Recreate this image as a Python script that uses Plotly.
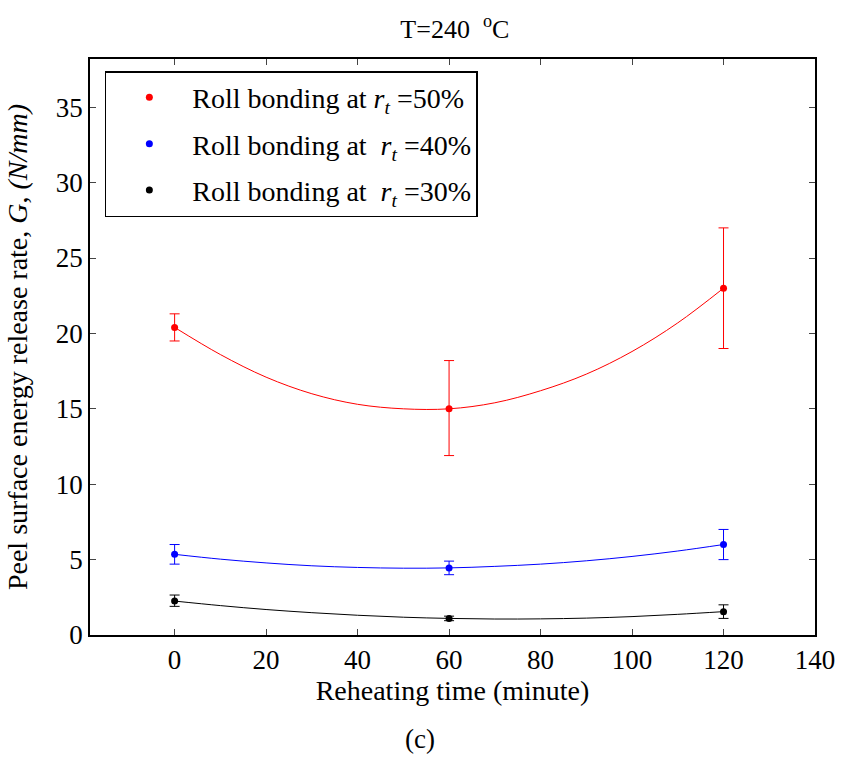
import plotly.graph_objects as go

# measured points
x_pts = [0, 60, 120]
r50 = [20.4, 15.0, 23.0]
r50_hi = [0.9, 3.2, 4.0]
r50_lo = [0.9, 3.1, 4.0]
r40 = [5.35, 4.45, 6.0]
r40_hi = [0.65, 0.45, 1.0]
r40_lo = [0.65, 0.45, 1.0]
r30 = [2.25, 1.1, 1.55]
r30_hi = [0.4, 0.15, 0.45]
r30_lo = [0.35, 0.15, 0.45]

# fitted curves
x_fit = [0, 10, 20, 30, 40, 50, 60, 70, 80, 90, 100, 110, 120]
fit50 = [20.4, 18.6, 17.1, 16.0, 15.3, 15.0, 15.0, 15.4, 16.2, 17.3, 18.8, 20.7, 23.0]
fit40 = [5.35, 5.03, 4.78, 4.59, 4.48, 4.43, 4.45, 4.55, 4.70, 4.92, 5.21, 5.57, 6.0]
fit30 = [2.25, 1.95, 1.69, 1.48, 1.31, 1.18, 1.10, 1.06, 1.07, 1.12, 1.22, 1.37, 1.55]

x_ticks = [0, 20, 40, 60, 80, 100, 120, 140]
y_ticks = [0, 5, 10, 15, 20, 25, 30, 35]

names = ["Roll bonding at <i>r</i><sub><i>t</i></sub> =50%",
         "Roll bonding at  <i>r</i><sub><i>t</i></sub> =40%",
         "Roll bonding at  <i>r</i><sub><i>t</i></sub> =30%"]
colors = ["#ff0000", "#0000ff", "#000000"]

FONT = "Liberation Serif"

fig = go.Figure()
for fit, c in zip([fit50, fit40, fit30], colors):
    fig.add_trace(go.Scatter(x=x_fit, y=fit, mode="lines", line=dict(color=c, width=1, shape="spline"),
                             showlegend=False, hoverinfo="skip"))
for i, (y, hi, lo, c, n) in enumerate(zip([r50, r40, r30], [r50_hi, r40_hi, r30_hi], [r50_lo, r40_lo, r30_lo], colors, names)):
    fig.add_trace(go.Scatter(x=x_pts, y=y, mode="markers", name=n, legendgroup=f"g{i}",
                             marker=dict(color=c, size=7),
                             error_y=dict(type="data", symmetric=False, array=hi, arrayminus=lo,
                                          color=c, thickness=1, width=5)))

fig.update_layout(
    width=847, height=768,
    margin=dict(l=90, r=27, t=59, b=133),
    paper_bgcolor="white", plot_bgcolor="white",
    font=dict(family=FONT, size=27, color="black"),
    title=dict(text="T=240  <sup>o</sup>C", x=0.537, xanchor="center", y=0.963, yanchor="middle",
               font=dict(family=FONT, size=26, color="black")),
    showlegend=True,
    legend=dict(x=0.0205, y=0.979, xanchor="left", yanchor="top", bgcolor="white",
                bordercolor="black", borderwidth=1.5, itemwidth=76, tracegroupgap=7,
                font=dict(family=FONT, size=28, color="black")),
    xaxis=dict(range=[-18.5, 140], tickvals=x_ticks, ticks="inside", ticklen=6, mirror="ticks",
               showline=True, linecolor="black", linewidth=1.5, showgrid=False, zeroline=False,
               title=dict(text="Reheating time (minute)", standoff=4,
                          font=dict(family=FONT, size=28, color="black")),
               tickfont=dict(family=FONT, size=27, color="black")),
    yaxis=dict(range=[0, 38.2], tickvals=y_ticks, ticks="inside", ticklen=6, mirror="ticks",
               showline=True, linecolor="black", linewidth=1.5, showgrid=False, zeroline=False,
               title=dict(text="Peel surface energy release rate, <i>G</i>, <i>(N/mm)</i>", standoff=20,
                          font=dict(family=FONT, size=28, color="black")),
               tickfont=dict(family=FONT, size=27, color="black")),
    annotations=[dict(text="(c)", xref="paper", yref="paper", x=0.455, y=-0.18, showarrow=False,
                      xanchor="center", yanchor="middle", font=dict(family=FONT, size=27, color="black"))],
)

fig.write_html("out.html")
